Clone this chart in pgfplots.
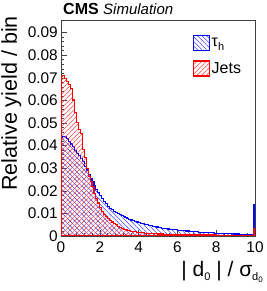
\documentclass[border=0pt]{standalone}
\usepackage{pgfplots}
\pgfplotsset{compat=1.18}
\usepackage{pgfplotstable}
\usepackage{fontspec}
\setmainfont{Liberation Sans}
\usetikzlibrary{patterns.meta}
\newcommand\sub[1]{\raisebox{-0.45ex}{\fontsize{11}{11}\selectfont #1}}
\newcommand\subb[1]{\raisebox{-0.3ex}{\fontsize{8}{8}\selectfont #1}}

\pgfplotstableread{
x y
0.0 0.0435
0.1 0.0440
0.2 0.0441
0.3 0.0432
0.4 0.0420
0.5 0.0407
0.6 0.0396
0.7 0.0380
0.8 0.0367
0.9 0.0355
1.0 0.0343
1.1 0.0330
1.2 0.0308
1.3 0.0292
1.4 0.0272
1.5 0.0256
1.6 0.0240
1.7 0.0222
1.8 0.0206
1.9 0.0193
2.0 0.0180
2.1 0.0166
2.2 0.0153
2.3 0.0142
2.4 0.0131
2.5 0.0123
2.6 0.0116
2.7 0.0110
2.8 0.0105
2.9 0.0100
3.0 0.0095
3.1 0.0090
3.2 0.0086
3.3 0.0081
3.4 0.0078
3.5 0.0074
3.6 0.0071
3.7 0.0069
3.8 0.0065
3.9 0.0062
4.0 0.0059
4.1 0.0057
4.2 0.0054
4.3 0.0052
4.4 0.0050
4.5 0.0048
4.6 0.0046
4.7 0.0043
4.8 0.0041
4.9 0.0040
5.0 0.0038
5.1 0.0037
5.2 0.0035
5.3 0.0034
5.4 0.0032
5.5 0.0031
5.6 0.0030
5.7 0.0029
5.8 0.0028
5.9 0.0027
6.0 0.0026
6.1 0.0025
6.2 0.0024
6.3 0.0023
6.4 0.0022
6.5 0.0022
6.6 0.0021
6.7 0.0020
6.8 0.0019
6.9 0.0019
7.0 0.0018
7.1 0.0017
7.2 0.0017
7.3 0.0016
7.4 0.0016
7.5 0.0015
7.6 0.0015
7.7 0.0014
7.8 0.0014
7.9 0.0013
8.0 0.0013
8.1 0.0012
8.2 0.0012
8.3 0.0011
8.4 0.0011
8.5 0.0011
8.6 0.0010
8.7 0.0010
8.8 0.0010
8.9 0.0009
9.0 0.0009
9.1 0.0009
9.2 0.0008
9.3 0.0008
9.4 0.0008
9.5 0.0007
9.6 0.0007
9.7 0.0007
9.8 0.0006
9.9 0.0139
10.0 0.0139
}\taudata

\pgfplotstableread{
x y
0.0 0.0705
0.1 0.0712
0.2 0.0698
0.3 0.0682
0.4 0.0672
0.5 0.0654
0.6 0.0602
0.7 0.0545
0.8 0.0502
0.9 0.0470
1.0 0.0455
1.1 0.0382
1.2 0.0348
1.3 0.0300
1.4 0.0265
1.5 0.0242
1.6 0.0220
1.7 0.0190
1.8 0.0166
1.9 0.0146
2.0 0.0128
2.1 0.0110
2.2 0.0096
2.3 0.0086
2.4 0.0077
2.5 0.0069
2.6 0.0062
2.7 0.0055
2.8 0.0049
2.9 0.0043
3.0 0.0038
3.1 0.0034
3.2 0.0030
3.3 0.0027
3.4 0.0025
3.5 0.0023
3.6 0.0021
3.7 0.0019
3.8 0.0018
3.9 0.0016
4.0 0.0015
4.1 0.0014
4.2 0.0014
4.3 0.0013
4.4 0.0012
4.5 0.0012
4.6 0.0011
4.7 0.0011
4.8 0.0010
4.9 0.0010
5.0 0.0009
5.1 0.0009
5.2 0.0009
5.3 0.0008
5.4 0.0008
5.5 0.0008
5.6 0.0008
5.7 0.0007
5.8 0.0007
5.9 0.0007
6.0 0.0007
6.1 0.0006
6.2 0.0006
6.3 0.0006
6.4 0.0006
6.5 0.0006
6.6 0.0006
6.7 0.0005
6.8 0.0005
6.9 0.0005
7.0 0.0005
7.1 0.0005
7.2 0.0005
7.3 0.0005
7.4 0.0005
7.5 0.0005
7.6 0.0005
7.7 0.0005
7.8 0.0005
7.9 0.0005
8.0 0.0004
8.1 0.0004
8.2 0.0004
8.3 0.0004
8.4 0.0004
8.5 0.0004
8.6 0.0004
8.7 0.0004
8.8 0.0004
8.9 0.0004
9.0 0.0004
9.1 0.0004
9.2 0.0004
9.3 0.0004
9.4 0.0004
9.5 0.0004
9.6 0.0004
9.7 0.0004
9.8 0.0004
9.9 0.0033
10.0 0.0033
}\jetdata

\begin{document}
\begin{tikzpicture}
\useasboundingbox (0,0) rectangle (266pt,291pt);
\begin{axis}[
  at={(61pt,55pt)}, anchor=south west,
  scale only axis, width=194pt, height=216pt,
  xmin=0, xmax=10, ymin=0, ymax=0.0956,
  scaled y ticks=false, scaled x ticks=false,
  axis line style={black!75, line width=0.6pt},
  tick pos=left, tick align=inside,
  xtick={0,2,4,6,8,10}, minor x tick num=4,
  ytick={0,0.01,0.02,0.03,0.04,0.05,0.06,0.07,0.08,0.09},
  yticklabels={0,0.01,0.02,0.03,0.04,0.05,0.06,0.07,0.08,0.09},
  xticklabels={0,2,4,6,8,10},
  minor y tick num=4,
  major tick length=6pt, minor tick length=3pt,
  every tick/.style={black!75, line width=0.6pt},
  /pgf/number format/assume math mode=true,
  tick label style={font=\fontsize{15.4}{16}\selectfont, inner sep=0pt},
  yticklabel style={xshift=-3pt},
  xticklabel style={yshift=-5.5pt},
  xlabel={| d\sub{0} | / σ\sub{d\subb{0}}},
  xlabel style={at={(rel axis cs:1,0)}, anchor=base east, inner sep=0pt,
    yshift=-40pt, xshift=8pt, font=\fontsize{21}{24}\selectfont},
  ylabel={Relative yield / bin},
  ylabel style={at={(rel axis cs:-0.228,1.0185)}, anchor=base east, inner sep=0pt,
    font=\fontsize{21.5}{24}\selectfont},
  every axis title shift=0pt,
  title={\fontsize{16}{18}\selectfont\textbf{CMS} \fontsize{15}{18}\selectfont\textit{Simulation}},
  title style={at={(rel axis cs:0,1)}, anchor=base west, inner sep=0pt, xshift=2pt, yshift=5pt},
  legend style={at={(rel axis cs:0.68,0.93)}, anchor=north west, draw=none, fill=none,
    font=\fontsize{16}{18}\selectfont, row sep=9pt, inner sep=0pt,
    nodes={inner sep=1.5pt}},
  legend cell align=left,
  legend image code/.code={\draw[#1, sharp plot] (0pt,-7.5pt) rectangle (16pt,7.5pt);},
]
\addplot[const plot, draw=blue, line width=1.1pt,
  pattern={Lines[angle=-45,distance=3.3pt,line width=0.55pt]}, pattern color=blue!75]
  table[x=x,y=y] {\taudata} \closedcycle;
\addlegendentry{τ\sub{h}}
\addplot[const plot, draw=red, line width=1.1pt,
  pattern={Lines[angle=45,distance=3.3pt,line width=0.55pt]}, pattern color=red!75]
  table[x=x,y=y] {\jetdata} \closedcycle;
\addlegendentry{Jets}
\end{axis}
\end{tikzpicture}
\end{document}
